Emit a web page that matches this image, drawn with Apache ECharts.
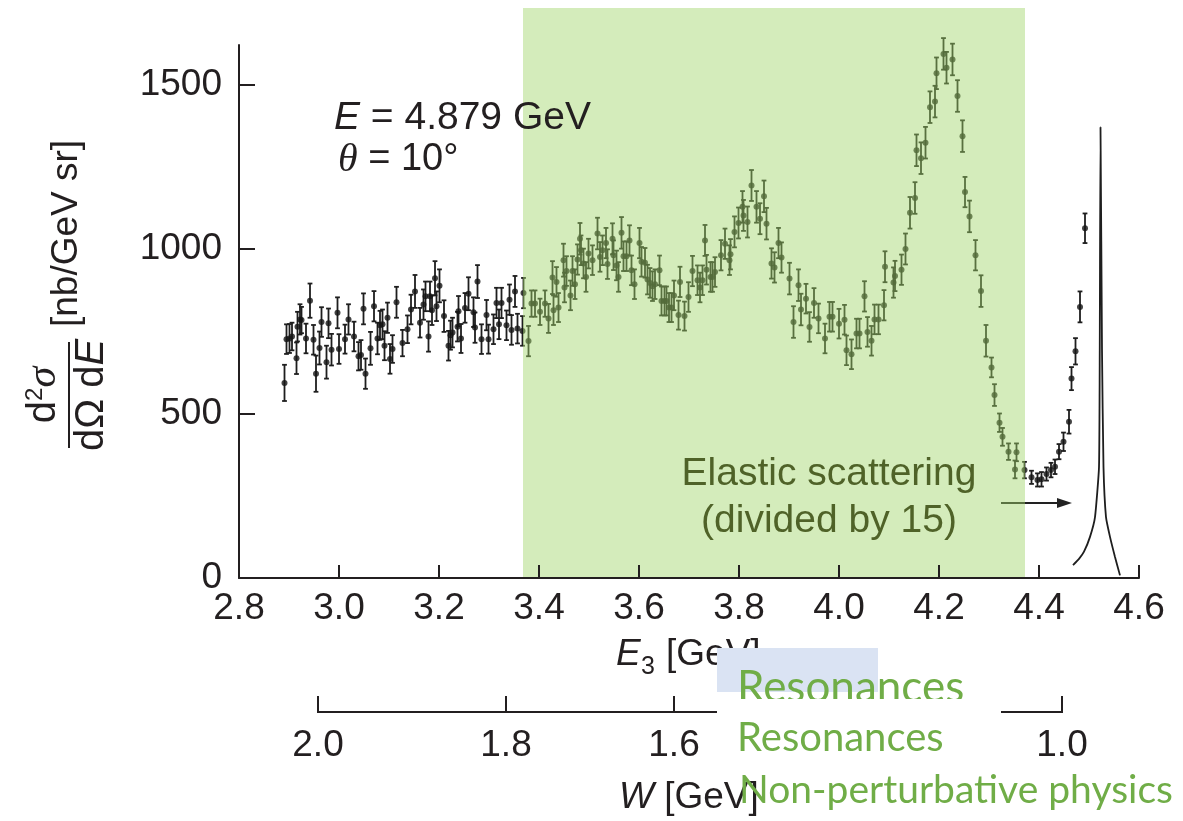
<!DOCTYPE html>
<html><head><meta charset="utf-8">
<script src="https://cdn.jsdelivr.net/npm/echarts@6/dist/echarts.min.js"></script>
<style>html,body{margin:0;padding:0;background:#fff}#c{width:1183px;height:821px}</style>
</head><body><div id="c"></div>
<script>
// ---------- data ----------
const energyE3 = [
 2.891,2.895,2.901,2.906,2.915,2.917,2.922,2.925,2.934,2.942,
 2.949,2.954,2.961,2.965,2.975,2.979,2.985,2.997,3.000,3.012,
 3.019,3.030,3.039,3.044,3.049,3.053,3.063,3.070,3.077,3.082,
 3.087,3.091,3.097,3.102,3.107,3.115,3.127,3.137,3.144,3.152,
 3.162,3.169,3.173,3.179,3.182,3.186,3.192,3.195,3.201,3.210,
 3.219,3.223,3.227,3.237,3.239,3.244,3.252,3.259,3.269,3.272,
 3.277,3.285,3.295,3.299,3.309,3.315,3.320,3.325,3.335,3.341,
 3.345,3.352,3.357,3.367,3.369,3.379,3.385,3.392,3.402,3.412,
 3.419,3.427,3.429,3.435,3.439,3.449,3.451,3.455,3.463,3.467,
 3.472,3.477,3.482,3.484,3.489,3.494,3.499,3.507,3.517,3.522,
 3.527,3.534,3.537,3.547,3.549,3.555,3.559,3.565,3.569,3.575,
 3.581,3.585,3.591,3.601,3.605,3.612,3.617,3.622,3.627,3.632,
 3.641,3.645,3.651,3.655,3.660,3.665,3.670,3.679,3.682,3.691,
 3.699,3.707,3.717,3.722,3.727,3.732,3.735,3.743,3.747,3.752,
 3.764,3.772,3.781,3.783,3.791,3.799,3.807,3.809,3.817,3.825,
 3.835,3.842,3.850,3.855,3.865,3.871,3.879,3.885,3.901,3.909,
 3.919,3.924,3.934,3.941,3.950,3.959,3.972,3.981,3.987,4.000,
 4.011,4.015,4.025,4.035,4.041,4.051,4.057,4.065,4.071,4.079,
 4.090,4.092,4.109,4.112,4.125,4.133,4.142,4.152,4.155,4.164,
 4.173,4.182,4.192,4.195,4.209,4.215,4.227,4.237,4.247,4.252,
 4.261,4.273,4.284,4.294,4.305,4.311,4.321,4.327,4.339,4.352,
 4.355,4.371,4.385,4.397,4.405,4.415,4.424,4.432,4.440,4.449,
 4.460,4.465,4.473,4.482,4.492
];
const crossSection = [
 593,726,728,734,668,764,786,784,728,843,
 724,621,699,778,656,774,694,806,696,726,
 786,734,674,678,818,621,698,826,728,768,
 771,706,791,666,696,838,714,756,816,871,
 776,831,856,734,856,814,911,826,888,796,
 706,738,746,764,811,728,821,864,808,761,
 901,726,799,726,756,836,771,836,768,846,
 754,871,758,751,866,720,834,834,809,834,
 789,913,814,900,822,966,883,933,859,933,
 893,968,1031,996,956,915,986,966,1047,976,
 996,1018,954,1031,981,950,915,1049,978,978,
 1026,935,893,1018,961,958,907,897,887,893,
 935,842,842,842,822,822,859,799,900,796,
 854,933,905,883,905,1026,937,915,915,930,
 981,1016,966,984,1052,1079,1128,1102,1082,1193,
 1128,1092,1160,1077,956,944,1018,974,910,778,
 890,816,849,763,836,789,728,794,794,773,
 785,692,680,743,743,856,748,721,786,786,
 829,946,898,918,937,1000,1110,1155,1300,1276,
 1323,1431,1448,1534,1593,1551,1576,1465,1343,1173,
 1099,981,872,721,640,556,472,429,384,330,
 382,328,306,298,300,316,328,338,384,414,
 475,606,689,824,1063
];
const errorHalf = [
 55,45,44,42,48,45,46,40,45,52,
 45,55,50,45,50,45,48,47,45,44,
 46,45,43,45,47,46,50,46,48,44,
 45,44,46,45,42,47,40,42,45,50,
 45,46,45,46,45,45,52,45,50,48,
 45,44,45,45,46,44,45,50,45,46,
 50,45,46,44,45,46,45,46,45,46,
 45,47,45,45,46,46,40,40,40,40,
 44,50,45,45,44,50,45,45,45,45,
 45,46,48,45,45,45,45,45,48,45,
 45,46,45,47,45,45,45,48,45,45,
 46,45,45,46,45,45,45,45,45,45,
 45,44,44,44,44,44,45,44,46,44,
 45,46,45,45,45,47,45,45,45,45,
 46,46,45,46,47,47,48,47,47,47,
 48,47,48,48,46,46,46,46,48,48,
 48,48,45,45,45,45,45,45,45,45,
 45,45,45,45,45,46,45,45,45,45,
 46,47,46,46,46,47,48,48,48,48,
 48,48,48,48,48,48,48,48,48,46,
 48,46,48,48,30,33,28,27,25,27,
 27,25,20,20,22,20,22,22,23,28,
 36,35,40,47,45
];
// elastic peak (divided by 15), traced line
const elasticE3    = [4.468,4.480,4.490,4.502,4.512,4.520,4.5215,4.523,4.526,4.529,4.534,4.542,4.552,4.562];
const elasticValue = [39,58,80,125,185,337,692,1370,692,337,185,125,64,8];

const xTicks = [2.8,3.0,3.2,3.4,3.6,3.8,4.0,4.2,4.4,4.6];
const yTicks = [0,500,1000,1500];
// secondary W axis: labels and their positions on the E3 scale
const wTickLabels = ['2.0','1.8','1.6','1.0'];
const wTickE3     = [2.958,3.334,3.670,4.446];
// shaded "resonances" band on the E3 scale
const bandE3 = [3.368,4.372];
// arrow toward elastic peak
const arrowE3 = [4.324,4.466];
const arrowValue = 228;

// ---------- chart ----------
const INK = '#231f20';
const FONT = '"Liberation Sans", Arial, sans-serif';
const GREEN_TXT = '#70ad47';
const chart = echarts.init(document.getElementById('c'));

const errData = energyE3.map((e,i)=>[e, crossSection[i], errorHalf[i]]);
const ptData  = energyE3.map((e,i)=>[e, crossSection[i]]);
const elData  = elasticE3.map((e,i)=>[e, elasticValue[i]]);

chart.setOption({
  animation:false,
  backgroundColor:'#ffffff',
  grid:{left:239, top:45, width:900, height:533},
  xAxis:{
    type:'value', min:2.8, max:4.6, interval:0.2, z:200,
    axisLine:{lineStyle:{color:INK,width:2}},
    axisTick:{inside:true,length:13,customValues:xTicks,lineStyle:{color:INK,width:2}},
    axisLabel:{customValues:xTicks,fontSize:37,color:INK,fontFamily:FONT,margin:12,
      formatter:v=>Number(v).toFixed(1)},
    splitLine:{show:false}
  },
  yAxis:{
    type:'value', min:0, max:1620, interval:500, z:200,
    axisLine:{show:true,lineStyle:{color:INK,width:2}},
    axisTick:{show:true,inside:true,length:16,customValues:yTicks,lineStyle:{color:INK,width:2}},
    axisLabel:{customValues:yTicks,fontSize:37,color:INK,fontFamily:FONT,margin:17,
      formatter:v=>String(Math.round(v))},
    splitLine:{show:false}
  },
  series:[
    {
      type:'custom', z:2,
      data:errData,
      encode:{x:0,y:1},
      renderItem:function(params, api){
        const x = api.value(0), y = api.value(1), e = api.value(2);
        const t = api.coord([x, y+e]);
        const b = api.coord([x, y-e]);
        const w = 2.4;
        const st = {stroke:'#1e1e1e', lineWidth:1.8};
        return {type:'group', children:[
          {type:'line', shape:{x1:t[0],y1:t[1],x2:b[0],y2:b[1]}, style:st},
          {type:'line', shape:{x1:t[0]-w,y1:t[1],x2:t[0]+w,y2:t[1]}, style:st},
          {type:'line', shape:{x1:b[0]-w,y1:b[1],x2:b[0]+w,y2:b[1]}, style:st}
        ]};
      }
    },
    {
      type:'scatter', z:3, data:ptData, symbol:'circle', symbolSize:6,
      itemStyle:{color:'#141414'}
    },
    {
      type:'line', z:3, data:elData, showSymbol:false, symbol:'none', smooth:0.15,
      lineStyle:{color:'#1e1e1e',width:1.8}
    }
  ]
});

// ---------- annotations ----------
const X = e => chart.convertToPixel({xAxisIndex:0}, e);
const Y = v => chart.convertToPixel({yAxisIndex:0}, v);

const bx0 = X(bandE3[0]), bx1 = X(bandE3[1]);
const ax0 = X(arrowE3[0]), ax1 = X(arrowE3[1]), ay = Y(arrowValue);
const yBase = Y(0);
const wY = 712;

const gfx = [];
// arrow (under band)
gfx.push({type:'line', z:50, shape:{x1:ax0,y1:ay,x2:ax1-12,y2:ay}, style:{stroke:'#222',lineWidth:1.8}});
gfx.push({type:'polygon', z:50, shape:{points:[[ax1,ay],[ax1-15,ay-5],[ax1-15,ay+5]]}, style:{fill:'#222'}});
// green band overlay
gfx.push({type:'rect', z:100, shape:{x:bx0,y:8,width:bx1-bx0,height:yBase-9},
  style:{fill:'rgba(160,212,104,0.45)'}});
// elastic text
gfx.push({type:'text', z:150, x:829, y:498, style:{text:'Elastic scattering\n(divided by 15)',
  fill:'#4f6228', fontSize:39, fontFamily:FONT, align:'center', verticalAlign:'middle', lineHeight:47}});
// E and theta
gfx.push({type:'text', z:150, x:334, y:118, style:{text:'{i|E}{n| = 4.879 GeV}', align:'left', verticalAlign:'middle',
  rich:{i:{fontSize:39,fontStyle:'italic',fontFamily:FONT,fill:INK},
        n:{fontSize:39,fontFamily:FONT,fill:INK}}}});
gfx.push({type:'text', z:150, x:338, y:160, style:{text:'{t|θ}{n| = 10°}', align:'left', verticalAlign:'middle',
  rich:{t:{fontSize:40,fontStyle:'italic',fontFamily:'"Liberation Serif", serif',fill:INK},
        n:{fontSize:38,fontFamily:FONT,fill:INK}}}});
// y axis title (rotated fraction)
gfx.push({type:'group', x:69, y:395, rotation:Math.PI/2, children:[
  {type:'line', shape:{x1:-53,y1:0,x2:53,y2:0}, style:{stroke:INK,lineWidth:2}},
  {type:'text', x:0, y:-4, style:{text:'{a|d}{s|2}{g|σ}', align:'center', verticalAlign:'bottom',
    rich:{a:{fontSize:40,fontFamily:FONT,fill:INK},
          s:{fontSize:24,fontFamily:FONT,fill:INK,verticalAlign:'top'},
          g:{fontSize:42,fontStyle:'italic',fontFamily:'"Liberation Serif", serif',fill:INK}}}},
  {type:'text', x:0, y:3, style:{text:'{a|dΩ d}{i|E}', align:'center', verticalAlign:'top',
    rich:{a:{fontSize:40,fontFamily:FONT,fill:INK},
          i:{fontSize:40,fontStyle:'italic',fontFamily:FONT,fill:INK}}}},
  {type:'text', x:68, y:-2, style:{text:'[nb/GeV sr]', align:'left', verticalAlign:'middle',
    fontSize:37, fontFamily:FONT, fill:INK}}
]});
// E3 axis title
gfx.push({type:'text', z:10, x:616, y:655, style:{text:'E', fontSize:37, fontStyle:'italic', fontFamily:FONT, fill:INK, align:'left', verticalAlign:'middle'}});
gfx.push({type:'text', z:10, x:641, y:667, style:{text:'3', fontSize:25, fontFamily:FONT, fill:INK, align:'left', verticalAlign:'middle'}});
gfx.push({type:'text', z:10, x:666, y:655, style:{text:'[GeV]', fontSize:37, fontFamily:FONT, fill:INK, align:'left', verticalAlign:'middle'}});
// light blue box
gfx.push({type:'rect', z:11, shape:{x:717,y:648,width:161,height:44}, style:{fill:'#dae3f3'}});
// first "Resonances"
gfx.push({type:'text', z:12, x:737, y:688, style:{text:'Resonances', fontSize:44, fontFamily:'Lato, sans-serif', fill:GREEN_TXT, align:'left', verticalAlign:'middle'}});
// W axis
const wx = wTickE3.map(X);
gfx.push({type:'line', z:9, shape:{x1:wx[0],y1:wY,x2:wx[wx.length-1],y2:wY}, style:{stroke:INK,lineWidth:2.2}});
wx.forEach((x,i)=>{
  gfx.push({type:'line', z:9, shape:{x1:x,y1:wY+1,x2:x,y2:wY-16}, style:{stroke:INK,lineWidth:2}});
  gfx.push({type:'text', z:9, x:x, y:746, style:{text:wTickLabels[i], fontSize:37, fontFamily:FONT, fill:INK, align:'center', verticalAlign:'middle'}});
});
// white box hiding middle of W axis
gfx.push({type:'rect', z:13, shape:{x:717,y:699,width:284,height:66}, style:{fill:'#ffffff'}});
// second "Resonances"
gfx.push({type:'text', z:14, x:737, y:738, style:{text:'Resonances', fontSize:40, fontFamily:'Lato, sans-serif', fill:GREEN_TXT, align:'left', verticalAlign:'middle'}});
// W title
gfx.push({type:'text', z:10, x:619, y:798, style:{text:'{i|W}{n| [GeV]}', align:'left', verticalAlign:'middle',
  rich:{i:{fontSize:37,fontStyle:'italic',fontFamily:FONT,fill:INK}, n:{fontSize:37,fontFamily:FONT,fill:INK}}}});
// third text
gfx.push({type:'text', z:15, x:739, y:790, style:{text:'Non-perturbative physics', fontSize:39, fontFamily:'Lato, sans-serif', fill:GREEN_TXT, align:'left', verticalAlign:'middle'}});

chart.setOption({graphic:{elements:gfx}});
</script>
</body></html>
